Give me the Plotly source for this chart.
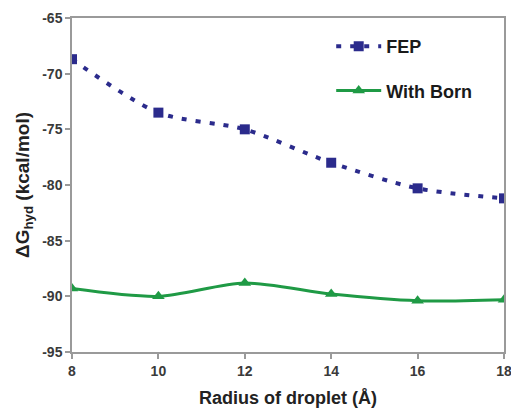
import plotly.graph_objects as go

radius = [8, 10, 12, 14, 16, 18]
fep = [-68.7, -73.5, -75.0, -78.0, -80.3, -81.2]
born = [-89.3, -90.0, -88.8, -89.8, -90.4, -90.3]
x_ticks = [8, 10, 12, 14, 16, 18]
y_ticks = [-95, -90, -85, -80, -75, -70, -65]

FONT = "Liberation Sans, Arial, sans-serif"

fig = go.Figure()
fig.add_trace(go.Scatter(
    x=radius, y=fep, name="FEP", mode="lines+markers", legendgroup="a",
    line=dict(color="#2B2B8C", width=4, dash="5px,9px", shape="spline", smoothing=0.8),
    marker=dict(symbol="square", size=10, color="#2B2B8C"),
))
fig.add_trace(go.Scatter(
    x=radius, y=born, name="With Born", mode="lines+markers", legendgroup="b",
    line=dict(color="#1F9A45", width=3, shape="spline", smoothing=0.8),
    marker=dict(symbol="triangle-up", size=11, color="#1F9A45"),
))

tickfont = dict(family=FONT, size=14, color="#3A3A3A", weight="bold")
fig.update_layout(
    width=511, height=411,
    margin=dict(l=72, r=7, t=18, b=59),
    paper_bgcolor="white", plot_bgcolor="white",
    font=dict(family=FONT, color="#222222"),
    showlegend=True,
    legend=dict(
        x=0.6, y=0.97, xanchor="left", yanchor="top",
        font=dict(family=FONT, size=18, color="#1A1A1A", weight="bold"),
        bgcolor="rgba(0,0,0,0)", itemwidth=45, tracegroupgap=18,
    ),
    xaxis=dict(
        range=[8, 18], tickvals=x_ticks, ticktext=[str(v) for v in x_ticks],
        showgrid=False, zeroline=False, automargin=False, ticklabeloverflow="allow",
        showline=True, linecolor="#9A9A9A", linewidth=1.5, mirror=True,
        ticks="outside", ticklen=5, tickcolor="#9A9A9A", tickwidth=1.5,
        tickfont=tickfont,
        title=dict(text="<b>Radius of droplet (Å)</b>", font=dict(family=FONT, size=18, color="#222222"), standoff=14),
    ),
    yaxis=dict(
        range=[-95, -65], tickvals=y_ticks, ticktext=[str(v) for v in y_ticks],
        showgrid=False, zeroline=False, automargin=False, ticklabeloverflow="allow",
        showline=True, linecolor="#9A9A9A", linewidth=1.5, mirror=True,
        ticks="outside", ticklen=5, tickcolor="#9A9A9A", tickwidth=1.5,
        tickfont=tickfont,
        title=dict(text="<b>ΔG<sub>hyd</sub> (kcal/mol)</b>", font=dict(family=FONT, size=19, color="#222222"), standoff=8),
    ),
)
fig.write_html("out.html", config={"displayModeBar": False},
               post_script="document.body.style.margin='0';document.body.style.overflow='hidden';")
